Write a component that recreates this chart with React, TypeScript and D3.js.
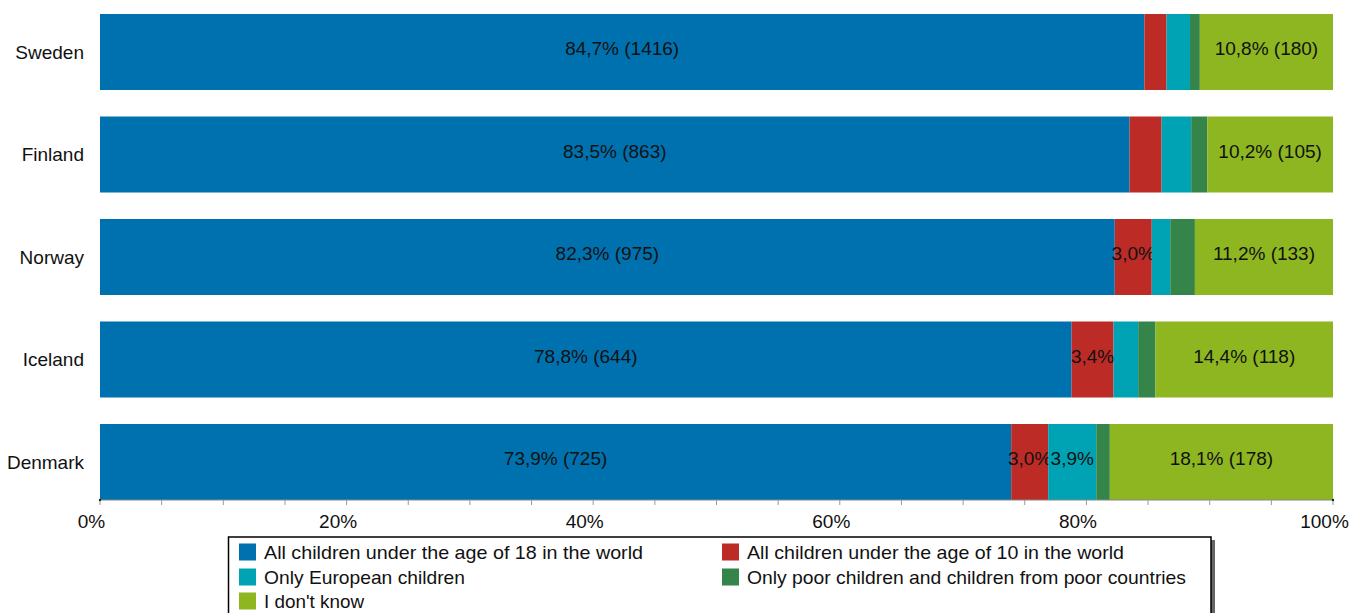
import React from "react";
import * as d3 from "d3";

const countries = ["Sweden", "Finland", "Norway", "Iceland", "Denmark"];
const seriesNames = [
  "All children under the age of 18 in the world",
  "All children under the age of 10 in the world",
  "Only European children",
  "Only poor children and children from poor countries",
  "I don't know",
];
const all18 = [84.7, 83.5, 82.3, 78.8, 73.9];
const all10 = [1.8, 2.6, 3.0, 3.4, 3.0];
const european = [1.9, 2.4, 1.5, 2.0, 3.9];
const poor = [0.8, 1.3, 2.0, 1.4, 1.1];
const dontKnow = [10.8, 10.2, 11.2, 14.4, 18.1];
const all18Counts = [1416, 863, 975, 644, 725];
const dontKnowCounts = [180, 105, 133, 118, 178];
const tickValues = [0, 20, 40, 60, 80, 100];
const minorTickValues = d3.range(0, 101, 5);

const colors = ["#0071AF", "#BD2B26", "#00A3B4", "#35844A", "#8DB621"];
const seriesValues = [all18, all10, european, poor, dontKnow];
const seriesCounts: (number[] | null)[] = [all18Counts, null, null, null, dontKnowCounts];

const fmt = (v: number) => v.toFixed(1).replace(".", ",") + "%";

export default function App() {
  const W = 1353, H = 613;
  const x = d3.scaleLinear().domain([0, 100]).range([100, 1333]);
  const y = d3.scaleBand<string>().domain(countries).range([14, 500]).paddingInner(0.2585).paddingOuter(0);
  const font = "'Liberation Sans', Arial, sans-serif";
  const axisY = 500;

  const legendItems = [
    { i: 0, col: 0, row: 0, len: 379 },
    { i: 1, col: 1, row: 0, len: 377 },
    { i: 2, col: 0, row: 1, len: 201 },
    { i: 3, col: 1, row: 1, len: 439 },
    { i: 4, col: 0, row: 2, len: 100 },
  ];
  const legendColX = [239, 722];
  const legendRowY = [552, 577, 601];

  return (
    <svg width={W} height={H} style={{ position: "absolute", left: 0, top: 0, background: "#fff" }} fontFamily={font}>
      {countries.map((c, ci) => {
        let acc = 0;
        const y0 = y(c)!;
        const bw = y.bandwidth();
        return (
          <g key={c}>
            {seriesValues.map((vals, si) => {
              const v = vals[ci];
              const xs = x(acc);
              acc += v;
              const xe = si === seriesValues.length - 1 ? x(100) : x(acc);
              const counts = seriesCounts[si];
              const showLabel = v >= 2.95;
              const label = counts ? `${fmt(v)} (${counts[ci]})` : fmt(v);
              return (
                <g key={si}>
                  <rect x={xs} y={y0} width={Math.max(0, xe - xs)} height={bw} fill={colors[si]} />
                  {showLabel && (
                    <text x={(xs + xe) / 2} y={y0 + bw / 2 - 3.5} dy="0.36em" textAnchor="middle" fontSize={19} fill="#111">
                      {label}
                    </text>
                  )}
                </g>
              );
            })}
            <text x={84} y={y0 + bw / 2} dy="0.36em" textAnchor="end" fontSize={19} fill="#111">{c}</text>
          </g>
        );
      })}
      {/* axis */}
      <line x1={x(0)} x2={x(100)} y1={axisY} y2={axisY} stroke="#888" strokeWidth={1} />
      {minorTickValues.map((t) => (
        <line key={t} x1={x(t)} x2={x(t)} y1={axisY} y2={axisY + 5} stroke="#999" strokeWidth={1} />
      ))}
      <circle cx={x(0)} cy={axisY} r={1.2} fill="#222" />
      <circle cx={x(100)} cy={axisY} r={1.2} fill="#222" />
      {tickValues.map((t) => (
        <text key={t} x={x(t) - 8.5} y={521} dy="0.36em" textAnchor="middle" fontSize={19} fill="#111">{t}%</text>
      ))}
      {/* legend */}
      <rect x={232} y={540} width={983} height={90} fill="#666" />
      <rect x={228.5} y={537} width={982.5} height={90} fill="#fff" stroke="#000" strokeWidth={1.5} />
      {legendItems.map((it) => (
        <g key={it.i}>
          <rect x={legendColX[it.col]} y={legendRowY[it.row] - 8.5} width={17} height={17} fill={colors[it.i]} />
          <text x={legendColX[it.col] + 25} y={legendRowY[it.row]} dy="0.36em" fontSize={19} fill="#111"
            textLength={it.len} lengthAdjust="spacingAndGlyphs">
            {seriesNames[it.i]}
          </text>
        </g>
      ))}
    </svg>
  );
}
